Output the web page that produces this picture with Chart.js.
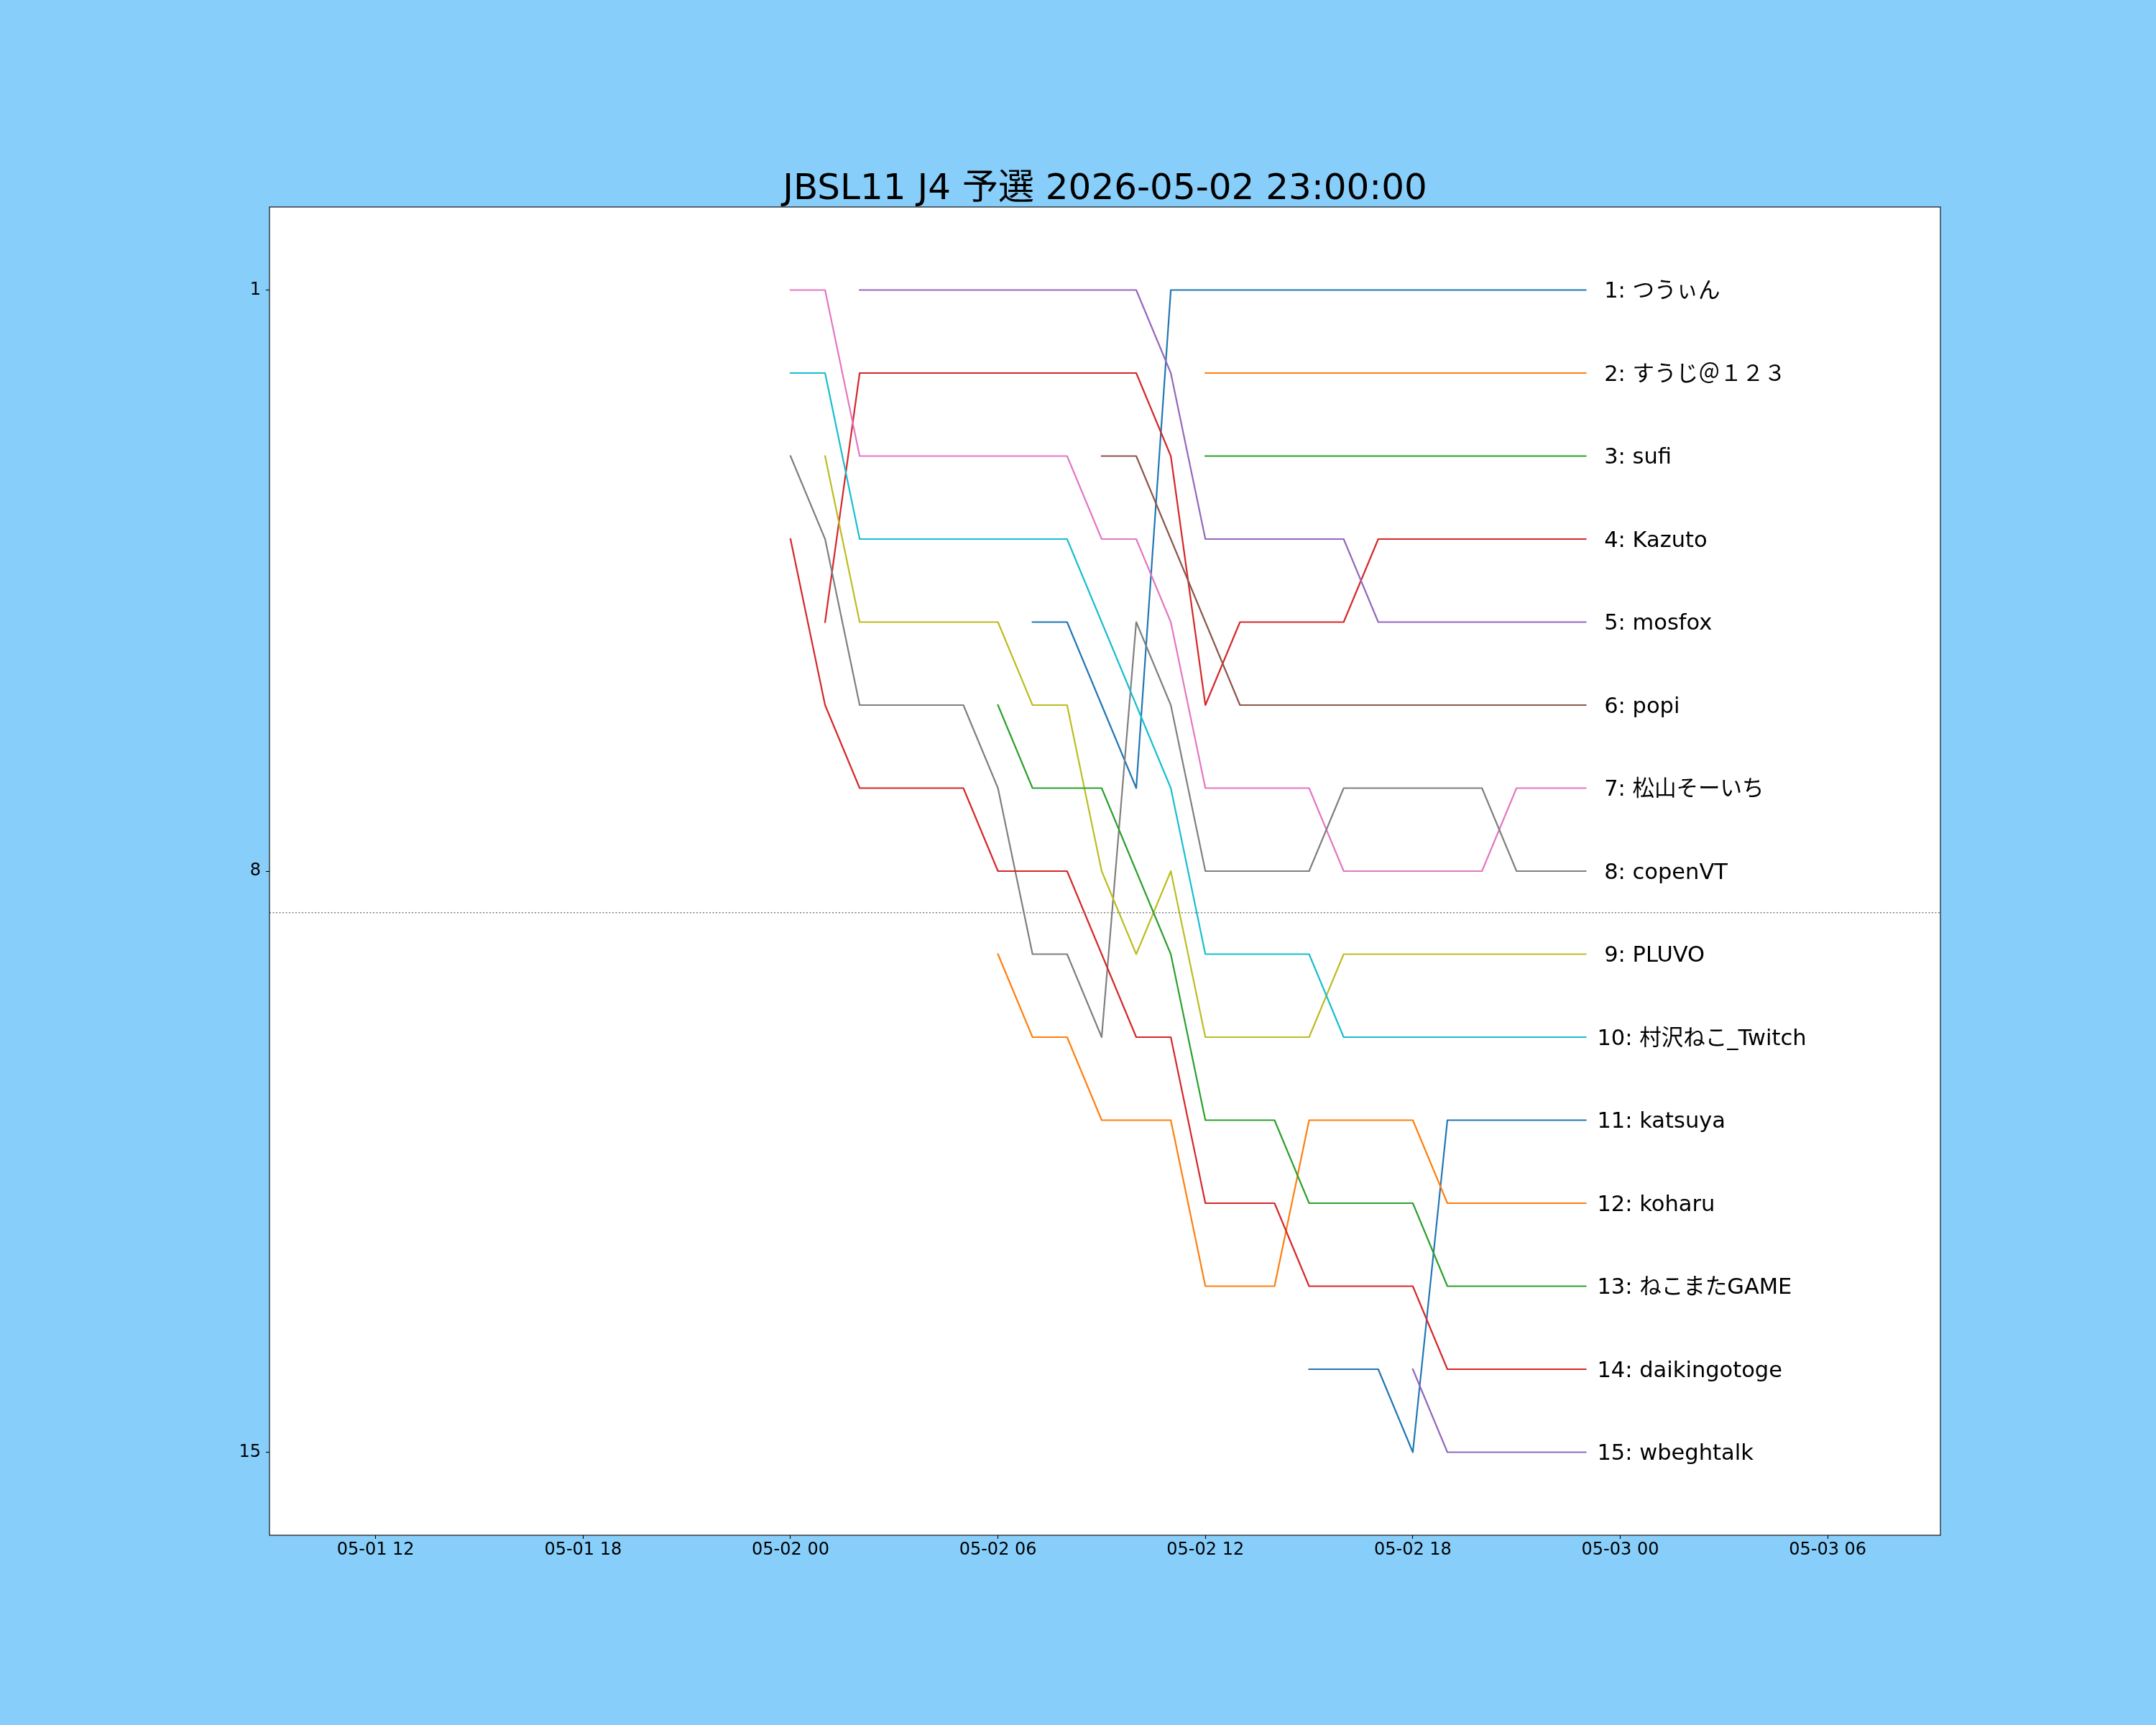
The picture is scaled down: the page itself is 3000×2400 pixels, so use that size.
<!DOCTYPE html>
<html>
<head>
<meta charset="utf-8">
<script src="https://cdn.jsdelivr.net/npm/chart.js@4.4.1/dist/chart.umd.min.js"></script>
<style>
  html, body { margin: 0; padding: 0; background: #87cefa; }
  canvas { display: block; }
</style>
</head>
<body>
<canvas id="chart" width="3000" height="2400" style="width:3000px;height:2400px"></canvas>
<script>
// ---- data (x = hours from 05-02 00:00) ----
const hours = [0, 1, 2, 3, 4, 5, 6, 7, 8, 9, 10, 11, 12, 13, 14, 15, 16, 17, 18, 19, 20, 21, 22, 23];

const names = [
    "つうぃん", "すうじ＠１２３", "sufi", "Kazuto", "mosfox",
    "popi", "松山そーいち", "copenVT", "PLUVO", "村沢ねこ_Twitch",
    "katsuya", "koharu", "ねこまたGAME", "daikingotoge", "wbeghtalk"
];

const _ = null;
const ranks = [
    [_, _, _, _, _, _, _, 5, 5, 6, 7, 1, 1, 1, 1, 1, 1, 1, 1, 1, 1, 1, 1, 1],
    [_, _, _, _, _, _, _, _, _, _, _, _, 2, 2, 2, 2, 2, 2, 2, 2, 2, 2, 2, 2],
    [_, _, _, _, _, _, _, _, _, _, _, _, 3, 3, 3, 3, 3, 3, 3, 3, 3, 3, 3, 3],
    [_, 5, 2, 2, 2, 2, 2, 2, 2, 2, 2, 3, 6, 5, 5, 5, 5, 4, 4, 4, 4, 4, 4, 4],
    [_, _, 1, 1, 1, 1, 1, 1, 1, 1, 1, 2, 4, 4, 4, 4, 4, 5, 5, 5, 5, 5, 5, 5],
    [_, _, _, _, _, _, _, _, _, 3, 3, 4, 5, 6, 6, 6, 6, 6, 6, 6, 6, 6, 6, 6],
    [1, 1, 3, 3, 3, 3, 3, 3, 3, 4, 4, 5, 7, 7, 7, 7, 8, 8, 8, 8, 8, 7, 7, 7],
    [3, 4, 6, 6, 6, 6, 7, 9, 9, 10, 5, 6, 8, 8, 8, 8, 7, 7, 7, 7, 7, 8, 8, 8],
    [_, 3, 5, 5, 5, 5, 5, 6, 6, 8, 9, 8, 10, 10, 10, 10, 9, 9, 9, 9, 9, 9, 9, 9],
    [2, 2, 4, 4, 4, 4, 4, 4, 4, 5, 6, 7, 9, 9, 9, 9, 10, 10, 10, 10, 10, 10, 10, 10],
    [_, _, _, _, _, _, _, _, _, _, _, _, _, _, _, 14, 14, 14, 15, 11, 11, 11, 11, 11],
    [_, _, _, _, _, _, 9, 10, 10, 11, 11, 11, 13, 13, 13, 11, 11, 11, 11, 12, 12, 12, 12, 12],
    [_, _, _, _, _, _, 6, 7, 7, 7, 8, 9, 11, 11, 11, 12, 12, 12, 12, 13, 13, 13, 13, 13],
    [4, 6, 7, 7, 7, 7, 8, 8, 8, 9, 10, 10, 12, 12, 12, 13, 13, 13, 13, 14, 14, 14, 14, 14],
    [_, _, _, _, _, _, _, _, _, _, _, _, _, _, _, _, _, _, 14, 15, 15, 15, 15, 15]
];

const xTickHours = [-12, -6, 0, 6, 12, 18, 24, 30];
const xTickLabels = ["05-01 12", "05-01 18", "05-02 00", "05-02 06", "05-02 12", "05-02 18", "05-03 00", "05-03 06"];
const yTicks = [1, 8, 15];
const cutoff = 8.5;
const labelHour = 23 + 1 / 3;
const titleText = "JBSL11 J4 予選 2026-05-02 23:00:00";

const colors = ["#1f77b4", "#ff7f0e", "#2ca02c", "#d62728", "#9467bd",
                "#8c564b", "#e377c2", "#7f7f7f", "#bcbd22", "#17becf"];

const FONT = "'DejaVu Sans', 'Noto Sans CJK JP', sans-serif";

// ---- datasets ----
const datasets = names.map((name, i) => ({
    label: name,
    data: hours.map((h, j) => ({ x: h, y: ranks[i][j] })),
    borderColor: colors[i % colors.length],
    borderWidth: 2.2,
    borderCapStyle: "square",
    borderJoinStyle: "round",
    pointRadius: 0,
    tension: 0,
    fill: false,
    spanGaps: false,
    order: names.length - i
}));

// ---- drawing extras ----
const decor = {
    id: "decor",
    beforeDraw(chart) {
        const { ctx, chartArea: a } = chart;
        ctx.save();
        ctx.fillStyle = "#87cefa";
        ctx.fillRect(0, 0, chart.width, chart.height);
        ctx.fillStyle = "#ffffff";
        ctx.fillRect(a.left, a.top, a.right - a.left, a.bottom - a.top);
        ctx.restore();
    },
    afterDatasetsDraw(chart) {
        const { ctx, chartArea: a, scales } = chart;
        ctx.save();

        // dotted cut line
        const yc = scales.y.getPixelForValue(cutoff);
        ctx.strokeStyle = "#808080";
        ctx.lineWidth = 1.6;
        ctx.setLineDash([2, 2.5]);
        ctx.beginPath();
        ctx.moveTo(a.left, yc);
        ctx.lineTo(a.right, yc);
        ctx.stroke();
        ctx.setLineDash([]);

        // name labels at the right end
        ctx.fillStyle = "#000000";
        ctx.font = "30.5px " + FONT;
        ctx.textAlign = "left";
        ctx.textBaseline = "middle";
        const lx = scales.x.getPixelForValue(labelHour);
        names.forEach((name, i) => {
            const r = ranks[i][ranks[i].length - 1];
            const txt = String(r).padStart(2, " ") + ": " + name;
            ctx.fillText(txt, lx, scales.y.getPixelForValue(r) + 3);
        });

        // spines
        ctx.strokeStyle = "#000000";
        ctx.lineWidth = 1.1;
        ctx.strokeRect(a.left, a.top, a.right - a.left, a.bottom - a.top);

        // title
        ctx.font = "50px " + FONT;
        ctx.textAlign = "center";
        ctx.textBaseline = "alphabetic";
        ctx.fillText(titleText, (a.left + a.right) / 2, a.top - 11);
        ctx.restore();
    }
};

new Chart(document.getElementById("chart"), {
    type: "line",
    data: { datasets: datasets },
    options: {
        responsive: false,
        animation: false,
        devicePixelRatio: 1,
        layout: { padding: { left: 0, top: 288, right: 300, bottom: 0 } },
        plugins: {
            legend: { display: false },
            tooltip: { enabled: false },
            title: { display: false }
        },
        scales: {
            x: {
                type: "linear",
                min: -15.07,
                max: 33.26,
                afterFit: s => { s.height = 264; },
                afterBuildTicks: s => { s.ticks = xTickHours.map(v => ({ value: v })); },
                ticks: {
                    autoSkip: false,
                    maxRotation: 0,
                    padding: 1,
                    color: "#000000",
                    font: { family: FONT, size: 24 },
                    callback: v => xTickLabels[xTickHours.indexOf(v)]
                },
                grid: {
                    drawOnChartArea: false,
                    drawTicks: true,
                    tickLength: 5,
                    tickColor: "#000000",
                    tickWidth: 1.1
                },
                border: { display: false }
            },
            y: {
                type: "linear",
                reverse: true,
                min: 0,
                max: 16,
                afterFit: s => { s.width = 375; },
                afterBuildTicks: s => { s.ticks = yTicks.map(v => ({ value: v })); },
                ticks: {
                    autoSkip: false,
                    padding: 7,
                    color: "#000000",
                    font: { family: FONT, size: 24 },
                    callback: v => String(v)
                },
                grid: {
                    drawOnChartArea: false,
                    drawTicks: true,
                    tickLength: 5,
                    tickColor: "#000000",
                    tickWidth: 1.1
                },
                border: { display: false }
            }
        }
    },
    plugins: [decor]
});
</script>
</body>
</html>
